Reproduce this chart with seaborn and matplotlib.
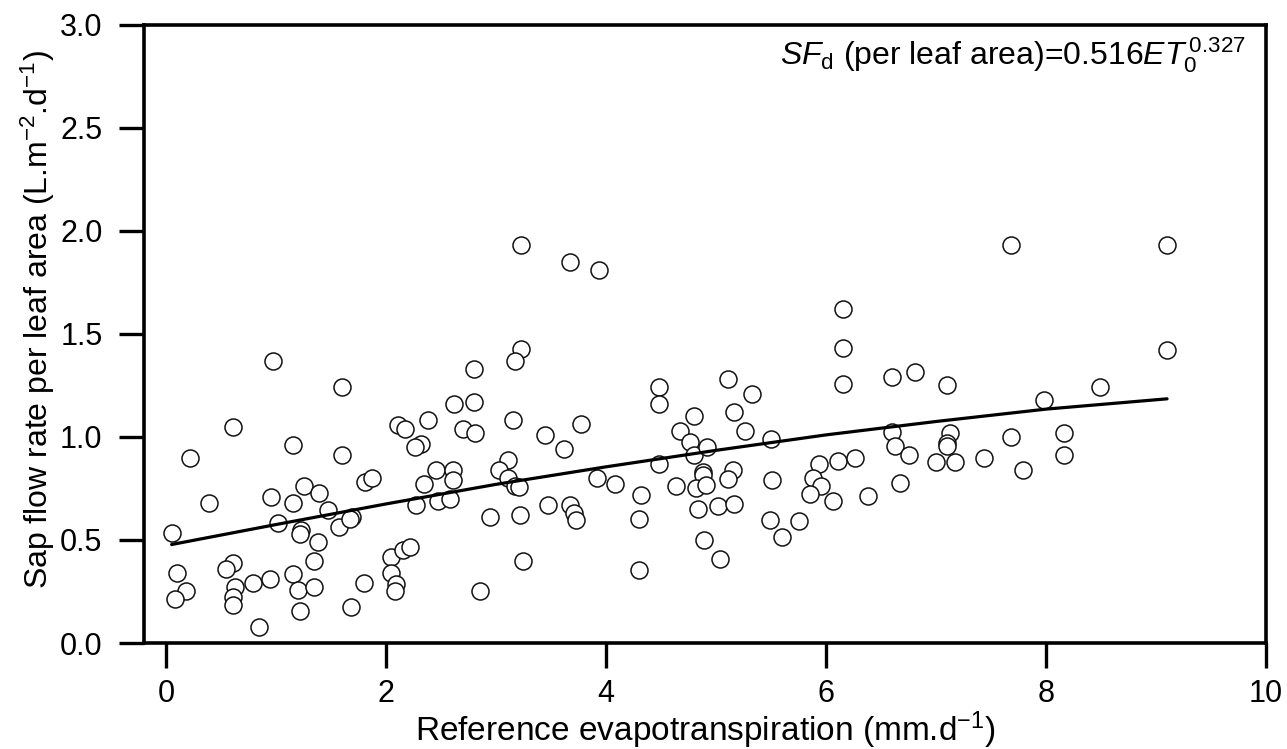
import numpy as np
import pandas as pd
import matplotlib
matplotlib.use("Agg")
import matplotlib.pyplot as plt
import seaborn as sns

# ---- data ----
et0 = [0.97, 1.60, 0.61, 0.22, 1.15, 1.60, 2.11, 2.17, 2.38, 2.32, 2.26, 2.45, 2.34, 2.27,
       2.47, 2.58, 0.39, 0.955, 1.15, 1.25, 1.39, 1.47, 1.02, 1.23, 1.22, 0.05, 1.38, 1.57,
       1.69, 1.67, 1.81, 1.87, 1.34, 0.61, 0.54, 0.10, 0.18, 0.08, 0.63, 0.61, 0.61, 0.79,
       0.94, 1.15, 1.20, 1.34, 1.22, 0.84, 1.68, 1.80, 2.04, 2.04, 2.09, 2.08, 2.15, 2.22,
       3.23, 3.67, 3.94, 3.23, 3.17, 2.80, 2.62, 2.80, 3.15, 2.70, 2.81, 3.44, 3.77, 3.62,
       2.61, 2.61, 3.11, 3.03, 3.11, 3.17, 3.21, 2.94, 3.22, 3.47, 3.67, 3.71, 3.73, 3.92,
       4.08, 4.32, 4.30, 4.30, 3.24, 2.85, 4.48, 4.48, 4.48, 4.80, 4.67, 4.76, 4.80, 4.92,
       4.88, 4.88, 4.82, 4.91, 4.64, 4.84, 5.02, 4.89, 5.04,
       6.15, 6.15, 6.15, 5.11, 5.33, 5.16, 5.26, 5.50, 6.60, 6.81, 7.10, 6.60, 6.63, 6.75,
       7.13, 7.10, 7.10, 7.00, 7.17, 7.44, 5.15, 5.11, 5.16, 5.51, 5.94, 5.88, 5.95, 5.85,
       6.11, 6.26, 6.06, 6.38, 6.67, 5.49, 5.75, 5.60,
       7.68, 9.10, 9.10, 8.49, 7.98, 7.68, 8.16, 8.16, 7.79]
sap_flow = [1.37, 1.24, 1.05, 0.90, 0.96, 0.91, 1.06, 1.04, 1.08, 0.965, 0.95, 0.84, 0.77, 0.67,
            0.69, 0.70, 0.68, 0.71, 0.68, 0.76, 0.73, 0.645, 0.58, 0.55, 0.53, 0.535, 0.49, 0.565,
            0.61, 0.60, 0.78, 0.80, 0.40, 0.39, 0.36, 0.34, 0.25, 0.215, 0.27, 0.225, 0.185, 0.29,
            0.31, 0.335, 0.257, 0.27, 0.155, 0.076, 0.173, 0.29, 0.415, 0.34, 0.285, 0.25, 0.45, 0.467,
            1.93, 1.85, 1.81, 1.425, 1.37, 1.33, 1.16, 1.17, 1.08, 1.04, 1.02, 1.01, 1.065, 0.94,
            0.84, 0.79, 0.887, 0.84, 0.80, 0.76, 0.755, 0.61, 0.62, 0.67, 0.67, 0.63, 0.595, 0.80,
            0.77, 0.72, 0.60, 0.355, 0.40, 0.25, 1.24, 1.16, 0.87, 1.10, 1.03, 0.975, 0.91, 0.95,
            0.83, 0.815, 0.75, 0.765, 0.76, 0.65, 0.665, 0.50, 0.41,
            1.62, 1.43, 1.255, 1.28, 1.21, 1.12, 1.03, 0.99, 1.29, 1.315, 1.25, 1.025, 0.956, 0.91,
            1.02, 0.97, 0.955, 0.88, 0.88, 0.90, 0.84, 0.795, 0.674, 0.79, 0.87, 0.80, 0.76, 0.725,
            0.884, 0.90, 0.69, 0.715, 0.775, 0.597, 0.59, 0.515,
            1.93, 1.93, 1.42, 1.24, 1.18, 1.00, 1.02, 0.91, 0.84]

fit_x = [0.05, 1, 2, 3, 4, 5, 6, 7, 8, 9.1]
fit_y = [0.478, 0.575, 0.675, 0.77, 0.855, 0.935, 1.01, 1.075, 1.135, 1.185]

x_ticks = [0, 2, 4, 6, 8, 10]
y_ticks = [0.0, 0.5, 1.0, 1.5, 2.0, 2.5, 3.0]

x_label = "Reference evapotranspiration (mm.d$^{-1}$)"
y_label = "Sap flow rate per leaf area (L.m$^{-2}$.d$^{-1}$)"
equation = r"$\mathit{SF}_{\mathrm{d}}$ (per leaf area)=0.516$\mathit{ET}_{0}^{\,0.327}$"

# ---- style ----
sns.set_style("ticks")
plt.rcParams["font.family"] = ["Liberation Sans", "DejaVu Sans"]
plt.rcParams["mathtext.fontset"] = "custom"
plt.rcParams["mathtext.rm"] = "Liberation Sans"
plt.rcParams["mathtext.it"] = "Liberation Sans:italic"
plt.rcParams["mathtext.bf"] = "Liberation Sans:bold"
plt.rcParams["text.color"] = "black"
plt.rcParams["axes.labelcolor"] = "black"
plt.rcParams["xtick.color"] = "black"
plt.rcParams["ytick.color"] = "black"
plt.rcParams["xtick.labelcolor"] = "black"
plt.rcParams["ytick.labelcolor"] = "black"

points = pd.DataFrame({"ET0": et0, "SF": sap_flow})
curve = pd.DataFrame({"ET0": fit_x, "SF": fit_y})

fig = plt.figure(figsize=(12.87, 7.49), dpi=100)
ax = fig.add_axes([0.112, 0.1415, 0.8717, 0.8254])

sns.scatterplot(data=points, x="ET0", y="SF", ax=ax, s=150, facecolor="white",
                edgecolor="#111111", linewidth=1.1, zorder=3)
sns.lineplot(data=curve, x="ET0", y="SF", ax=ax, color="black", linewidth=2.3,
             zorder=4, estimator=None, sort=True)

ax.set_xlim(-0.2, 10)
ax.set_ylim(0, 3)
ax.set_xticks(x_ticks)
ax.set_xticklabels([f"{t:g}" for t in x_ticks])
ax.set_yticks(y_ticks)
ax.set_yticklabels([f"{t:.1f}" for t in y_ticks])

for sp in ax.spines.values():
    sp.set_visible(True)
    sp.set_linewidth(2.6)
    sp.set_color("black")

ax.tick_params(axis="both", direction="out", length=18, width=2.4, color="black",
               labelcolor="black", labelsize=22, pad=12)
ax.tick_params(axis="x", pad=8)

ax.set_xlabel(x_label, fontsize=24, labelpad=0.5)
ax.set_ylabel(y_label, fontsize=23)
ax.yaxis.set_label_coords(-0.078, 0.523)

ax.text(0.982, 0.935, equation, transform=ax.transAxes, ha="right", va="baseline",
        fontsize=23)

fig.savefig("out.png", dpi=100)
